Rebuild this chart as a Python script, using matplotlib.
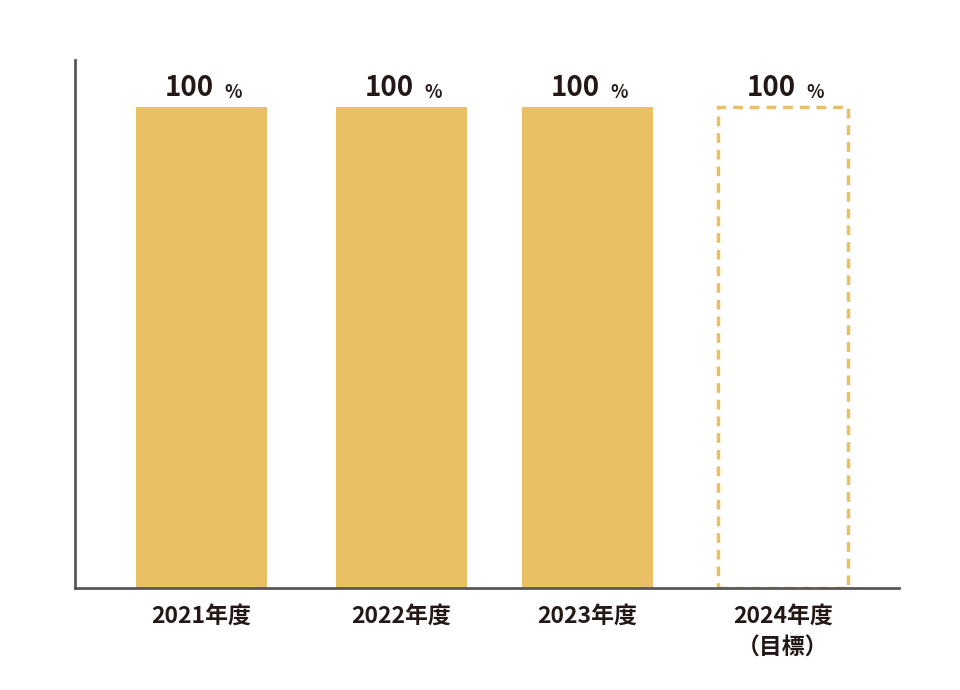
import matplotlib
matplotlib.use("Agg")
import matplotlib.pyplot as plt

plt.rcParams['font.family'] = ['Noto Sans CJK JP', 'DejaVu Sans']

categories = ['2021年度', '2022年度', '2023年度', '2024年度\n（目標）']
values = [100, 100, 100, 100]
is_target = [False, False, False, True]

# bar centres (slightly irregular in the original)
xpos = [0, 1.0, 1.93, 2.9075]

bar_color = '#E9C063'
text_color = '#231815'
axis_color = '#595757'

fig = plt.figure(figsize=(9.6, 6.9), dpi=100)
ax = fig.add_axes([75 / 960, 102 / 690, 824 / 960, 528 / 690])

for x, v, tgt in zip(xpos, values, is_target):
    if tgt:
        ax.bar(x, v, width=0.65, facecolor='none', edgecolor=bar_color,
               linewidth=2.5, linestyle=(0, (2.8, 2)))
    else:
        ax.bar(x, v, width=0.655, color=bar_color, linewidth=0)
    ax.annotate(str(v), (x, v), xytext=(9, 4), textcoords='offset points',
                ha='right', va='bottom', fontsize=20, fontweight='bold',
                color=text_color)
    ax.annotate('%', (x, v), xytext=(16.5, 4), textcoords='offset points',
                ha='left', va='bottom', fontsize=13, fontweight='bold',
                color=text_color)

ax.set_xlim(-0.6325, 3.4875)
ax.set_ylim(0, 109.8)
ax.set_xticks(xpos)
ax.set_xticklabels(categories, fontsize=16.5, fontweight='bold', color=text_color,
                   linespacing=1.5, va='top')
ax.tick_params(axis='x', length=0, pad=12)
ax.set_yticks([])

for s in ['top', 'right']:
    ax.spines[s].set_visible(False)
for s in ['left', 'bottom']:
    ax.spines[s].set_color(axis_color)
    ax.spines[s].set_linewidth(2)

fig.savefig('out.png', dpi=100, facecolor='white')
